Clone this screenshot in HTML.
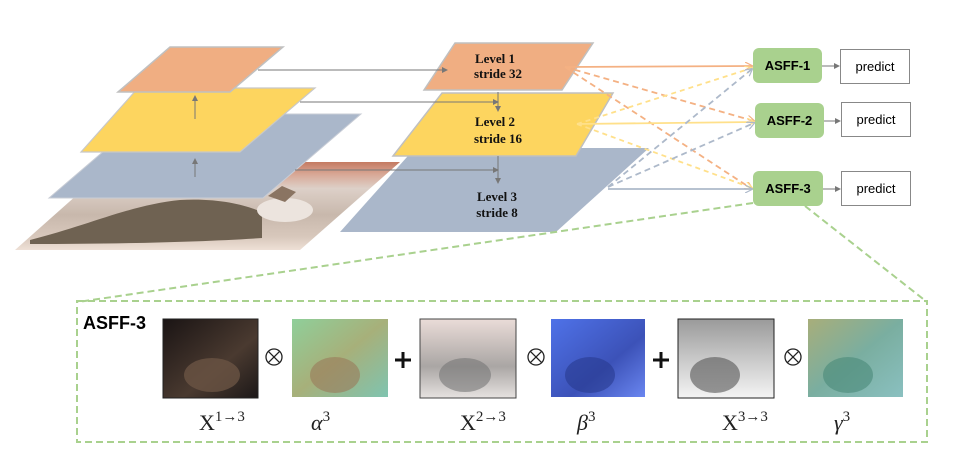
<!DOCTYPE html>
<html><head><meta charset="utf-8"><style>
html,body{margin:0;padding:0;background:#fff;}
svg{display:block;}
</style></head><body>
<svg width="970" height="463" viewBox="0 0 970 463" xmlns="http://www.w3.org/2000/svg">
<defs>
<marker id="ag" markerWidth="6" markerHeight="6" refX="5" refY="3" orient="auto" markerUnits="userSpaceOnUse"><path d="M0,0 L6,3 L0,6 z" fill="#777"/></marker>
<marker id="ao" markerWidth="8" markerHeight="8" refX="7" refY="4" orient="auto" markerUnits="userSpaceOnUse"><path d="M0,0 L8,4 L0,8" fill="none" stroke="#f4b183" stroke-width="1.2"/></marker>
<marker id="ay" markerWidth="8" markerHeight="8" refX="7" refY="4" orient="auto" markerUnits="userSpaceOnUse"><path d="M0,0 L8,4 L0,8" fill="none" stroke="#ffe08a" stroke-width="1.2"/></marker>
<marker id="ab" markerWidth="8" markerHeight="8" refX="7" refY="4" orient="auto" markerUnits="userSpaceOnUse"><path d="M0,0 L8,4 L0,8" fill="none" stroke="#adb9ca" stroke-width="1.2"/></marker>
<linearGradient id="cat" x1="0" y1="0" x2="0" y2="1">
<stop offset="0" stop-color="#c47a62"/><stop offset="0.14" stop-color="#d8a896"/><stop offset="0.3" stop-color="#ddd0c8"/><stop offset="0.6" stop-color="#c8b8ac"/><stop offset="0.85" stop-color="#d8c8bc"/><stop offset="1" stop-color="#eee0d6"/>
</linearGradient>
<linearGradient id="i1" x1="0" y1="0" x2="1" y2="1"><stop offset="0" stop-color="#1a1414"/><stop offset="0.6" stop-color="#4a3a30"/><stop offset="1" stop-color="#1c1818"/></linearGradient>
<linearGradient id="i2" x1="0" y1="0" x2="1" y2="1"><stop offset="0" stop-color="#8fcf9a"/><stop offset="0.5" stop-color="#a7b07a"/><stop offset="1" stop-color="#7fc4b0"/></linearGradient>
<linearGradient id="i3" x1="0" y1="0" x2="0" y2="1"><stop offset="0" stop-color="#eadcd8"/><stop offset="0.6" stop-color="#aaa6a4"/><stop offset="1" stop-color="#e6e2e0"/></linearGradient>
<linearGradient id="i4" x1="0" y1="0" x2="1" y2="1"><stop offset="0" stop-color="#4f72e8"/><stop offset="0.6" stop-color="#3c52b8"/><stop offset="1" stop-color="#6a86f0"/></linearGradient>
<linearGradient id="i5" x1="0" y1="0" x2="0" y2="1"><stop offset="0" stop-color="#9a9a9a"/><stop offset="0.5" stop-color="#c8c8c8"/><stop offset="1" stop-color="#f4f4f4"/></linearGradient>
<linearGradient id="i6" x1="0" y1="0" x2="1" y2="1"><stop offset="0" stop-color="#a8ae7a"/><stop offset="0.5" stop-color="#7aaea0"/><stop offset="1" stop-color="#8ac0c0"/></linearGradient>
</defs>

<!-- left pyramid -->
<polygon points="15,250 114,162 400,162 300,250" fill="url(#cat)"/>
<path d="M30,240 C90,225 130,205 180,200 C220,198 245,205 262,212 L262,238 C200,242 120,244 30,244 z" fill="#6f6252"/>
<ellipse cx="285" cy="210" rx="28" ry="12" fill="#ece4de"/>
<polygon points="268,196 282,186 296,192 285,202" fill="#8a7462"/>
<polygon points="49,198 147,114 361,114 263,198" fill="#aab7ca" stroke="#c8cdd6" stroke-width="1"/>
<polygon points="81,152 138,88 315,88 240,152" fill="#fdd55f" stroke="#c8c8c8" stroke-width="1.2"/>
<polygon points="118,92 170,47 283,47 230,92" fill="#f0ae82" stroke="#c0c0c0" stroke-width="1.5"/>
<line x1="195" y1="119" x2="195" y2="96" stroke="#777" stroke-width="1" marker-end="url(#ag)"/>
<line x1="195" y1="177" x2="195" y2="159" stroke="#777" stroke-width="1" marker-end="url(#ag)"/>

<!-- right pyramid -->
<polygon points="340,232 415,148 649,148 556,232" fill="#aab7ca"/>
<polygon points="393,156 442,93 613,93 576,156" fill="#fdd55f" stroke="#c0c0c0" stroke-width="1.5"/>
<polygon points="424,90 455,43 593,43 562,90" fill="#f0ae82" stroke="#c0c0c0" stroke-width="1.5"/>

<line x1="258" y1="70" x2="447" y2="70" stroke="#777" stroke-width="1" marker-end="url(#ag)"/>
<line x1="300" y1="102" x2="498" y2="102" stroke="#777" stroke-width="1" marker-end="url(#ag)"/>
<line x1="295" y1="170" x2="498" y2="170" stroke="#777" stroke-width="1" marker-end="url(#ag)"/>
<line x1="498" y1="92" x2="498" y2="111" stroke="#777" stroke-width="1" marker-end="url(#ag)"/>
<line x1="498" y1="156" x2="498" y2="183" stroke="#777" stroke-width="1" marker-end="url(#ag)"/>

<g font-family="Liberation Serif, serif" font-weight="bold" font-size="13" text-anchor="middle" fill="#111">
<text x="495" y="63">Level 1</text><text x="498" y="78">stride 32</text>
<text x="495" y="126">Level 2</text><text x="498" y="143">stride 16</text>
<text x="497" y="201">Level 3</text><text x="497" y="217">stride 8</text>
</g>

<!-- connections -->
<g stroke-width="1.8" fill="none">
<line x1="565" y1="67" x2="752" y2="66" stroke="#f4b183" marker-end="url(#ao)"/>
<line x1="565" y1="67" x2="754" y2="121" stroke="#f4b183" stroke-dasharray="6,4" marker-end="url(#ao)"/>
<line x1="565" y1="67" x2="752" y2="189" stroke="#f4b183" stroke-dasharray="6,4" marker-end="url(#ao)"/>
<line x1="577" y1="124" x2="752" y2="68" stroke="#ffe08a" stroke-dasharray="5,4" marker-end="url(#ay)"/>
<line x1="577" y1="124" x2="754" y2="122" stroke="#ffe08a" marker-end="url(#ay)"/>
<line x1="577" y1="124" x2="752" y2="188" stroke="#ffe08a" stroke-dasharray="5,4" marker-end="url(#ay)"/>
<line x1="608" y1="187" x2="752" y2="69" stroke="#adb9ca" stroke-dasharray="6,4" marker-end="url(#ab)"/>
<line x1="608" y1="187" x2="754" y2="123" stroke="#adb9ca" stroke-dasharray="6,4" marker-end="url(#ab)"/>
<line x1="608" y1="189" x2="752" y2="189" stroke="#adb9ca" marker-end="url(#ab)"/>
</g>

<g font-family="Liberation Sans, sans-serif" font-size="13">
<rect x="753" y="48" width="69" height="35" rx="6" fill="#a9d18e"/>
<rect x="755" y="103" width="69" height="35" rx="6" fill="#a9d18e"/>
<rect x="753" y="171" width="70" height="35" rx="6" fill="#a9d18e"/>
<text x="787.5" y="70" text-anchor="middle" font-weight="bold">ASFF-1</text>
<text x="789.5" y="125" text-anchor="middle" font-weight="bold">ASFF-2</text>
<text x="788" y="193" text-anchor="middle" font-weight="bold">ASFF-3</text>
<rect x="840.5" y="49.5" width="69" height="34" fill="#fff" stroke="#888"/>
<rect x="841.5" y="102.5" width="69" height="34" fill="#fff" stroke="#888"/>
<rect x="841.5" y="171.5" width="69" height="34" fill="#fff" stroke="#888"/>
<text x="875" y="71" text-anchor="middle">predict</text>
<text x="876" y="124" text-anchor="middle">predict</text>
<text x="876" y="193" text-anchor="middle">predict</text>
<line x1="822" y1="66" x2="839" y2="66" stroke="#777" marker-end="url(#ag)"/>
<line x1="824" y1="121" x2="840" y2="121" stroke="#777" marker-end="url(#ag)"/>
<line x1="823" y1="189" x2="840" y2="189" stroke="#777" marker-end="url(#ag)"/>
</g>

<!-- zoom lines & box -->
<g stroke="#a9d18e" stroke-width="2" stroke-dasharray="7,4" fill="none">
<line x1="753" y1="203" x2="78" y2="302"/>
<line x1="805" y1="206" x2="927" y2="302"/>
<rect x="77" y="301" width="850" height="141"/>
</g>
<text x="83" y="329" font-family="Liberation Sans, sans-serif" font-weight="bold" font-size="18">ASFF-3</text>

<rect x="163" y="319" width="95" height="79" fill="url(#i1)" stroke="#222"/>
<ellipse cx="212" cy="375" rx="28" ry="17" fill="#6a5444" opacity="0.8"/>
<rect x="292" y="319" width="96" height="78" fill="url(#i2)"/>
<ellipse cx="335" cy="375" rx="25" ry="18" fill="#9a7a5a" opacity="0.6"/>
<rect x="420" y="319" width="96" height="79" fill="url(#i3)" stroke="#444"/>
<ellipse cx="465" cy="375" rx="26" ry="17" fill="#777" opacity="0.6"/>
<rect x="551" y="319" width="94" height="78" fill="url(#i4)"/>
<ellipse cx="590" cy="375" rx="25" ry="18" fill="#283a90" opacity="0.6"/>
<rect x="678" y="319" width="96" height="79" fill="url(#i5)" stroke="#222"/>
<ellipse cx="715" cy="375" rx="25" ry="18" fill="#555" opacity="0.6"/>
<rect x="808" y="319" width="95" height="78" fill="url(#i6)"/>
<ellipse cx="848" cy="375" rx="25" ry="18" fill="#4a8878" opacity="0.6"/>

<g stroke="#222" stroke-width="1.3" fill="none">
<circle cx="274" cy="357" r="8"/><path d="M268.3,351.3 L279.7,362.7 M279.7,351.3 L268.3,362.7"/>
<circle cx="536" cy="357" r="8"/><path d="M530.3,351.3 L541.7,362.7 M541.7,351.3 L530.3,362.7"/>
<circle cx="793" cy="357" r="8"/><path d="M787.3,351.3 L798.7,362.7 M798.7,351.3 L787.3,362.7"/>
</g>
<g stroke="#111" stroke-width="3">
<path d="M395,360 H411 M403,352 V368"/>
<path d="M653,360 H669 M661,352 V368"/>
</g>

<g font-family="Liberation Serif, serif" font-size="22" fill="#222">
<text x="199" y="430">X<tspan font-size="15" dy="-9">1→3</tspan></text>
<text x="311" y="430" font-style="italic">α<tspan font-style="normal" font-size="15" dy="-9">3</tspan></text>
<text x="460" y="430">X<tspan font-size="15" dy="-9">2→3</tspan></text>
<text x="577" y="430" font-style="italic">β<tspan font-style="normal" font-size="15" dy="-9">3</tspan></text>
<text x="722" y="430">X<tspan font-size="15" dy="-9">3→3</tspan></text>
<text x="834" y="430" font-style="italic">γ<tspan font-style="normal" font-size="15" dy="-9">3</tspan></text>
</g>
</svg>
</body></html>
